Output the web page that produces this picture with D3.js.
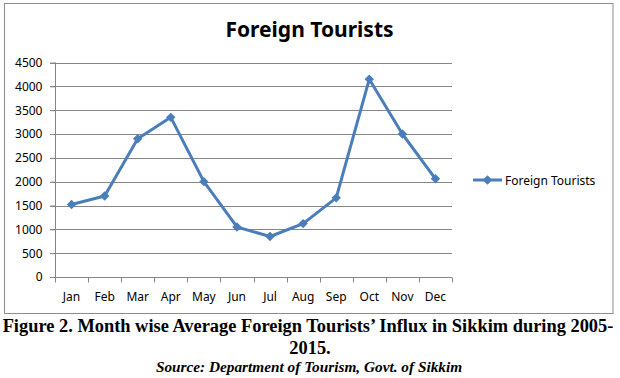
<!DOCTYPE html>
<html><head><meta charset="utf-8">
<script src="https://cdn.jsdelivr.net/npm/d3@7"></script>
<style>html,body{margin:0;padding:0;background:#fff;}svg{display:block;}</style>
</head><body>
<svg id="c" width="620" height="378"></svg>
<script>
const months = ["Jan","Feb","Mar","Apr","May","Jun","Jul","Aug","Sep","Oct","Nov","Dec"];
const foreignTourists = [1520,1700,2900,3350,2000,1050,850,1120,1660,4150,3000,2060];
const yTicks = [0,500,1000,1500,2000,2500,3000,3500,4000,4500];
const seriesName = "Foreign Tourists";
const chartTitle = "Foreign Tourists";
const captionLine1 = "Figure 2. Month wise Average Foreign Tourists\u2019 Influx in Sikkim during 2005-";
const captionLine2 = "2015.";
const sourceLine = "Source: Department of Tourism, Govt. of Sikkim";

const svg = d3.select("#c");
const blue = "#4A7EBB", grid = "#868686";
const font = "Noto Sans, Open Sans, sans-serif";

svg.append("rect").attr("x",4.5).attr("y",3.5).attr("width",608.5).attr("height",310)
  .attr("fill","#fff").attr("stroke","#8c8c8c").attr("stroke-width",1);

const x = d3.scaleBand().domain(months).range([55,452]);
const y = d3.scaleLinear().domain([0,4500]).range([277,62.5]);

// gridlines
svg.append("g").selectAll("line").data(yTicks).join("line")
  .attr("x1",50).attr("x2",452)
  .attr("y1",d=>Math.round(y(d))+0.5).attr("y2",d=>Math.round(y(d))+0.5)
  .attr("stroke",grid).attr("stroke-width",1);

// y axis
const yAxis = svg.append("g").attr("transform","translate(55.5,0)")
  .call(d3.axisLeft(y).tickValues(yTicks).tickSize(5).tickPadding(8).tickFormat(d3.format("d")));
yAxis.selectAll("line").attr("stroke",grid);
yAxis.select(".domain").attr("stroke",grid).attr("d","M0,62.5V277");
yAxis.selectAll("text").attr("font-family",font).attr("font-size",12).attr("fill","#000");

// x axis
const xAxis = svg.append("g").attr("transform","translate(0,277.5)");
xAxis.append("line").attr("x1",55).attr("x2",452).attr("stroke",grid);
const bounds = months.map(m=>x(m)).concat([x.range()[1]]);
xAxis.selectAll("line.t").data(bounds).join("line").attr("class","t")
  .attr("x1",d=>Math.round(d)+0.5).attr("x2",d=>Math.round(d)+0.5).attr("y1",0).attr("y2",5)
  .attr("stroke",grid);
xAxis.selectAll("text").data(months).join("text")
  .attr("x",d=>x(d)+x.bandwidth()/2).attr("y",23)
  .attr("text-anchor","middle").attr("font-family",font).attr("font-size",12).text(d=>d);

// line
const line = d3.line().x((d,i)=>x(months[i])+x.bandwidth()/2).y(d=>y(d));
svg.append("path").datum(foreignTourists).attr("d",line)
  .attr("fill","none").attr("stroke",blue).attr("stroke-width",3).attr("stroke-linejoin","round");
const diamond = d3.symbol().type(d3.symbolSquare).size(44);
svg.append("g").selectAll("path").data(foreignTourists).join("path")
  .attr("d",diamond)
  .attr("transform",(d,i)=>`translate(${x(months[i])+x.bandwidth()/2},${y(d)}) rotate(45)`)
  .attr("fill",blue);

// legend
const lg = svg.append("g");
lg.append("line").attr("x1",473).attr("x2",502).attr("y1",180).attr("y2",180)
  .attr("stroke",blue).attr("stroke-width",3);
lg.append("path").attr("d",diamond).attr("transform","translate(487.5,180) rotate(45)").attr("fill",blue);
lg.append("text").attr("x",505).attr("y",184.5).attr("font-family",font).attr("font-size",12)
  .text(seriesName);

// title
svg.append("text").attr("x",309.5).attr("y",37).attr("text-anchor","middle")
  .attr("font-family",font).attr("font-weight","bold").attr("font-size",21)
  .text(chartTitle);

// caption
const serif = "Liberation Serif, Times New Roman, serif";
svg.append("text").attr("x",308).attr("y",332).attr("text-anchor","middle")
  .attr("font-family",serif).attr("font-weight","bold").attr("font-size",18.4).text(captionLine1);
svg.append("text").attr("x",310).attr("y",354).attr("text-anchor","middle")
  .attr("font-family",serif).attr("font-weight","bold").attr("font-size",18.4).text(captionLine2);
svg.append("text").attr("x",309).attr("y",372).attr("text-anchor","middle")
  .attr("font-family",serif).attr("font-weight","bold").attr("font-style","italic").attr("font-size",15.3).text(sourceLine);
</script>
</body></html>
